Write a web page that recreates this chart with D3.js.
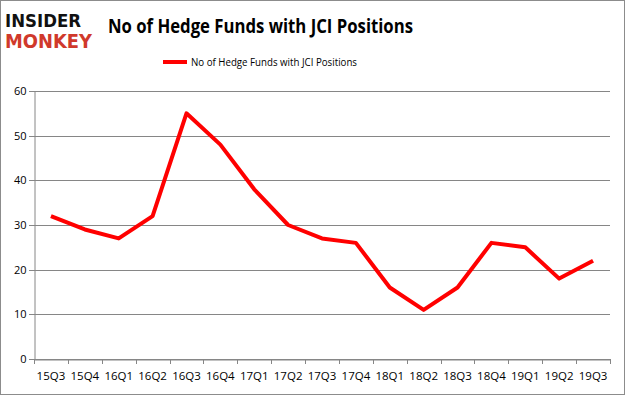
<!DOCTYPE html>
<html><head><meta charset="utf-8">
<script src="https://cdn.jsdelivr.net/npm/d3@7"></script>
<style>body{margin:0;background:#fff}svg{display:block}</style>
</head><body><svg id="c" width="625" height="395"></svg>
<script>
const categories = ["15Q3","15Q4","16Q1","16Q2","16Q3","16Q4","17Q1","17Q2","17Q3","17Q4","18Q1","18Q2","18Q3","18Q4","19Q1","19Q2","19Q3"];
const values = [32,29,27,32,55,48,38,30,27,26,16,11,16,26,25,18,22];
const yTicks = [0,10,20,30,40,50,60];
const seriesName = "No of Hedge Funds with JCI Positions";
const titleText = "No of Hedge Funds with JCI Positions";

const svg = d3.select("#c");
const font = "'Open Sans', 'DejaVu Sans', sans-serif";
svg.append("rect").attr("x",0.5).attr("y",0.5).attr("width",624).attr("height",394)
  .attr("fill","#fff").attr("stroke","#8c8c8c");

const L=34, R=610, T=91, B=359;
const x = d3.scaleBand().domain(categories).range([L,R]);
const y = d3.scaleLinear().domain([0,60]).range([B,T]);

// gridlines
svg.append("g").selectAll("line").data(yTicks).join("line")
  .attr("x1",L-5).attr("x2",R).attr("y1",d=>Math.round(y(d))+0.5).attr("y2",d=>Math.round(y(d))+0.5)
  .attr("stroke","#868686").attr("stroke-width",1);

// y axis
const ya = svg.append("g").attr("transform",`translate(${L+0.5},0)`)
  .call(d3.axisLeft(y).tickValues(yTicks).tickSize(0).tickPadding(8));
ya.select(".domain").attr("stroke","#868686");
ya.selectAll("text").attr("font-family",font).attr("font-size",11).attr("fill","#000");

// x axis
const xa = svg.append("g").attr("transform",`translate(0,${Math.round(B)+0.5})`)
  .call(d3.axisBottom(x).tickSize(0).tickPadding(12));
xa.select(".domain").attr("stroke","#868686");
xa.selectAll("text").attr("font-family",font).attr("font-size",11.5).attr("fill","#000");
svg.append("g").selectAll("line").data(categories.concat([null])).join("line")
  .attr("x1",(d,i)=>Math.round(L+i*x.step())+0.5).attr("x2",(d,i)=>Math.round(L+i*x.step())+0.5)
  .attr("y1",B).attr("y2",B+5).attr("stroke","#868686");

// line
const line = d3.line().x((d,i)=>x(categories[i])+x.bandwidth()/2).y(d=>y(d));
svg.append("path").datum(values).attr("d",line).attr("fill","none")
  .attr("stroke","#ff0000").attr("stroke-width",4).attr("stroke-linejoin","round");

// title
svg.append("text").attr("x",108).attr("y",33).attr("font-family",font).attr("font-weight","bold")
  .attr("font-size",20).attr("fill","#000").attr("textLength",305).attr("lengthAdjust","spacingAndGlyphs").text(titleText);

// legend
svg.append("line").attr("x1",163).attr("x2",187).attr("y1",62).attr("y2",62)
  .attr("stroke","#ff0000").attr("stroke-width",4);
svg.append("text").attr("x",191).attr("y",66).attr("font-family",font).attr("font-size",11)
  .attr("fill","#000").attr("textLength",166).attr("lengthAdjust","spacingAndGlyphs").text(seriesName);

// logo
svg.append("text").attr("x",5).attr("y",27).attr("font-family","'DejaVu Sans', sans-serif").attr("font-weight","bold")
  .attr("font-size",18).attr("fill","#111").attr("textLength",76).attr("lengthAdjust","spacingAndGlyphs").text("INSIDER");
svg.append("text").attr("x",5).attr("y",48).attr("font-family","'DejaVu Sans', sans-serif").attr("font-weight","bold")
  .attr("font-size",19).attr("fill","#d0392b").attr("textLength",87).attr("lengthAdjust","spacingAndGlyphs").text("MONKEY");
</script></body></html>
